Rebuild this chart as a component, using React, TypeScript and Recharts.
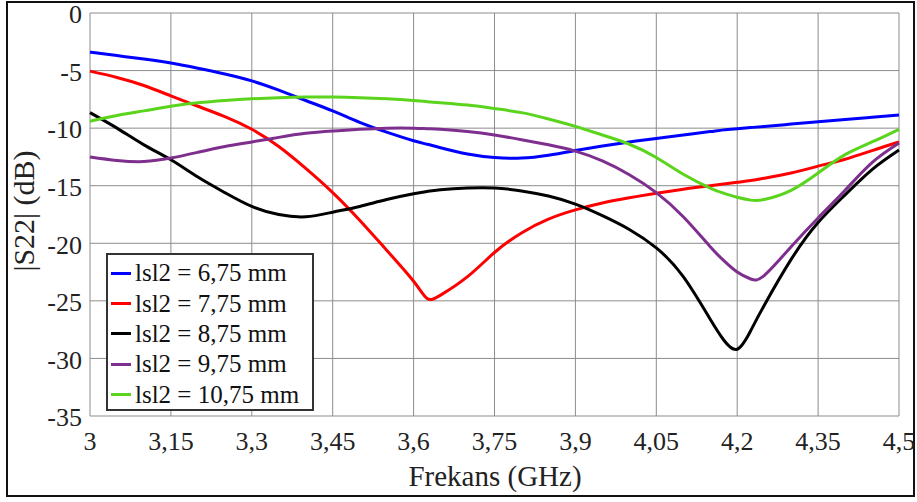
import React from 'react';
import { LineChart, Line, XAxis, YAxis, CartesianGrid } from 'recharts';

// frequency points (GHz)
const freq = [
  3.0, 3.05, 3.1, 3.15, 3.2, 3.25, 3.3, 3.35, 3.4, 3.45, 3.5, 3.55, 3.6, 3.625, 3.65, 3.7,
  3.75, 3.8, 3.85, 3.9, 3.95, 4.0, 4.05, 4.1, 4.15, 4.175, 4.2, 4.225, 4.25, 4.3, 4.35, 4.4,
  4.45, 4.5,
];

// |S22| in dB for each lsl2
const s675 = [
  -3.4, -3.7, -4.0, -4.35, -4.8, -5.3, -5.9, -6.7, -7.6, -8.5, -9.5, -10.35, -11.1, -11.4, -11.7, -12.25,
  -12.55, -12.6, -12.35, -11.95, -11.55, -11.2, -10.9, -10.6, -10.3, -10.15, -10.05, -9.95, -9.85, -9.65, -9.45, -9.25,
  -9.05, -8.85,
];
const s775 = [
  -5.05, -5.6, -6.3, -7.2, -8.1, -9.0, -10.1, -11.6, -13.5, -15.6, -18.0, -20.6, -23.3, -24.8, -24.5, -22.9,
  -20.8, -19.1, -17.9, -17.1, -16.5, -16.05, -15.65, -15.3, -15.0, -14.85, -14.7, -14.55, -14.35, -13.9, -13.3, -12.7,
  -11.95, -11.2,
];
const s875 = [
  -8.65, -10.0, -11.45, -12.75, -14.25, -15.6, -16.8, -17.5, -17.7, -17.3, -16.8, -16.2, -15.7, -15.5, -15.35, -15.2,
  -15.2, -15.45, -15.9, -16.6, -17.6, -18.8, -20.4, -22.9, -26.6, -28.4, -29.2, -27.6, -25.4, -21.4, -18.2, -15.8,
  -13.6, -11.9,
];
const s975 = [
  -12.5, -12.8, -12.9, -12.6, -12.1, -11.6, -11.2, -10.8, -10.45, -10.25, -10.1, -10.0, -10.0, -10.05, -10.1, -10.3,
  -10.6, -11.0, -11.45, -12.0, -12.85, -14.05, -15.6, -17.7, -20.3, -21.5, -22.5, -23.1, -22.8, -20.3, -17.8, -15.4,
  -13.0, -11.3,
];
const s1075 = [
  -9.4, -8.9, -8.5, -8.1, -7.8, -7.6, -7.45, -7.35, -7.3, -7.3, -7.35, -7.45, -7.6, -7.7, -7.8, -8.0,
  -8.3, -8.65, -9.2, -9.85, -10.6, -11.4, -12.55, -14.0, -15.2, -15.65, -16.0, -16.25, -16.2, -15.4, -13.9, -12.3,
  -11.2, -10.1,
];

const xTicks = [3, 3.15, 3.3, 3.45, 3.6, 3.75, 3.9, 4.05, 4.2, 4.35, 4.5];
const yTicks = [0, -5, -10, -15, -20, -25, -30, -35];

const series = [
  { key: 's675', name: 'lsl2 = 6,75 mm', color: '#0000ff', values: s675 },
  { key: 's775', name: 'lsl2 = 7,75 mm', color: '#ff0000', values: s775 },
  { key: 's875', name: 'lsl2 = 8,75 mm', color: '#000000', values: s875 },
  { key: 's975', name: 'lsl2 = 9,75 mm', color: '#7e2f8e', values: s975 },
  { key: 's1075', name: 'lsl2 = 10,75 mm', color: '#5ad41c', values: s1075 },
];

const data = freq.map((f, i) => {
  const row: Record<string, number> = { f };
  series.forEach((s) => {
    row[s.key] = s.values[i];
  });
  return row;
});

const font = "'Liberation Serif', 'DejaVu Serif', serif";
const comma = (v: number) => String(v).replace('.', ',');

export default function App() {
  return (
    <div style={{ position: 'absolute', left: 0, top: 0, width: 917, height: 502, background: '#fff', fontFamily: font }}>
      {/* outer frame */}
      <div style={{ position: 'absolute', left: 6, top: 1, width: 905, height: 492, border: '2px solid #111' }} />

      <div style={{ position: 'absolute', left: 0, top: 0 }}>
        <LineChart width={917} height={502} data={data} margin={{ top: 13, right: 18, bottom: 46, left: 30 }}>
          <CartesianGrid stroke="#8c8c8c" strokeWidth={1} />
          <XAxis
            dataKey="f"
            type="number"
            domain={[3, 4.5]}
            ticks={xTicks}
            tickFormatter={comma}
            tickLine={false}
            axisLine={false}
            tickSize={0}
            tickMargin={16}
            height={40}
            interval={0}
            tick={{ fill: '#222', fontSize: 26, fontFamily: font }}
          />
          <YAxis
            type="number"
            domain={[-35, 0]}
            ticks={yTicks}
            tickLine={false}
            axisLine={false}
            tickSize={0}
            tickMargin={8}
            width={60}
            interval={0}
            tick={{ fill: '#222', fontSize: 26, fontFamily: font, dy: 1 }}
          />
          {series.map((s) => (
            <Line
              key={s.key}
              dataKey={s.key}
              name={s.name}
              stroke={s.color}
              strokeWidth={3}
              dot={false}
              type="natural"
              isAnimationActive={false}
            />
          ))}
        </LineChart>
      </div>

      {/* axis titles */}
      <div style={{ position: 'absolute', left: 395, top: 458, width: 200, textAlign: 'center', fontSize: 29, color: '#222', lineHeight: '36px' }}>
        Frekans (GHz)
      </div>
      <div
        style={{
          position: 'absolute',
          left: 24 - 100,
          top: 211 - 20,
          width: 200,
          height: 40,
          lineHeight: '40px',
          textAlign: 'center',
          fontSize: 30,
          color: '#222',
          transform: 'rotate(-90deg)',
        }}
      >
        |S22| (dB)
      </div>

      {/* legend */}
      <div
        style={{
          position: 'absolute',
          left: 106,
          top: 253,
          width: 204,
          height: 151,
          border: '2px solid #333',
          background: '#fff',
          paddingTop: 3,
          boxSizing: 'content-box',
        }}
      >
        {series.map((s) => (
          <div key={s.key} style={{ display: 'flex', alignItems: 'center', height: 30.4, fontSize: 25, color: '#111' }}>
            <span style={{ display: 'inline-block', width: 20, height: 3, background: s.color, marginLeft: 3, marginRight: 4 }} />
            <span style={{ whiteSpace: 'nowrap' }}>{s.name}</span>
          </div>
        ))}
      </div>
    </div>
  );
}
